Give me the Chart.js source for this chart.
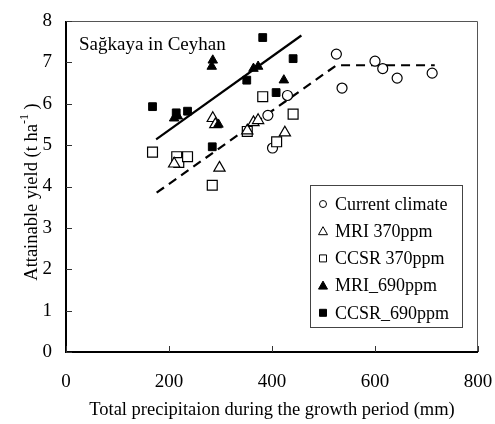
<!DOCTYPE html>
<html>
<head>
<meta charset="utf-8">
<script src="https://cdn.jsdelivr.net/npm/chart.js@4"></script>
<style>
  html, body { margin: 0; padding: 0; background: #fff; }
  #wrap { width: 495px; height: 424px; }
</style>
</head>
<body>
<div id="wrap"><canvas id="myChart" width="495" height="424"></canvas></div>
<script>
// Data (x = precipitation mm, y = yield t/ha)
const currentX = [392, 401, 430, 525, 536, 600, 615, 643, 711];
const currentY = [5.72, 4.93, 6.2, 7.2, 6.38, 7.03, 6.85, 6.62, 6.74];

const mri370X = [210, 285, 290, 298, 352, 364, 373, 425];
const mri370Y = [4.55, 5.65, 5.5, 4.45, 5.35, 5.55, 5.6, 5.3];

const ccsr370X = [168, 215, 219, 236, 284, 352, 382, 409, 441];
const ccsr370Y = [4.83, 4.72, 4.58, 4.72, 4.03, 5.33, 6.17, 5.08, 5.75];

const mri690X = [210, 217, 283, 285, 296, 364, 373, 423];
const mri690Y = [5.65, 5.7, 6.9, 7.05, 5.5, 6.85, 6.9, 6.57];

const ccsr690X = [168, 214, 236, 284, 351, 382, 408, 441];
const ccsr690Y = [5.93, 5.78, 5.82, 4.96, 6.57, 7.6, 6.27, 7.09];

// trend lines
const solidLineX = [175, 457];
const solidLineY = [5.14, 7.65];
const dashLineX = [176, 525, 716];
const dashLineY = [3.85, 6.93, 6.93];

const xTicks = [0, 200, 400, 600, 800];
const yTicks = [0, 1, 2, 3, 4, 5, 6, 7, 8];

const seriesNames = ['Current climate', 'MRI 370ppm', 'CCSR 370ppm', 'MRI_690ppm', 'CCSR_690ppm'];

const serif = "'Liberation Serif', 'Times New Roman', serif";

function pts(xs, ys) {
  return xs.map((x, i) => ({ x: x, y: ys[i] }));
}

// frame, inward tick marks, inner title, y title and legend
const decorations = {
  id: 'decorations',
  afterDraw: (chart) => {
    const ctx = chart.ctx;
    const a = chart.chartArea;
    const xs = chart.scales.x, ys = chart.scales.y;
    ctx.save();
    // thin top/right edges
    ctx.strokeStyle = '#555';
    ctx.lineWidth = 1;
    ctx.beginPath();
    ctx.moveTo(a.left, a.top + 0.5);
    ctx.lineTo(a.right - 0.5, a.top + 0.5);
    ctx.lineTo(a.right - 0.5, a.bottom);
    ctx.stroke();
    // heavy left/bottom axes
    ctx.strokeStyle = '#000';
    ctx.lineWidth = 2;
    ctx.beginPath();
    ctx.moveTo(a.left, a.top);
    ctx.lineTo(a.left, a.bottom);
    ctx.lineTo(a.right, a.bottom);
    ctx.stroke();
    // ticks
    ctx.lineWidth = 1;
    ctx.strokeStyle = '#333';
    ctx.beginPath();
    yTicks.forEach(v => {
      const py = Math.round(ys.getPixelForValue(v)) + 0.5;
      ctx.moveTo(a.left, py); ctx.lineTo(a.left + 6, py);
    });
    xTicks.forEach(v => {
      const px = Math.round(xs.getPixelForValue(v)) + 0.5;
      ctx.moveTo(px, a.bottom); ctx.lineTo(px, a.bottom - 6);
    });
    ctx.stroke();

    // inner title
    ctx.fillStyle = '#000';
    ctx.font = '19px ' + serif;
    ctx.textBaseline = 'alphabetic';
    ctx.textAlign = 'left';
    ctx.fillText('Sağkaya in Ceyhan', 79, 50);

    // y title with superscript
    ctx.save();
    ctx.translate(32, 192);
    ctx.rotate(-Math.PI / 2);
    const p1 = 'Attainable yield (t ha', p2 = '-1', p3 = ' )';
    ctx.font = '18.5px ' + serif;
    const w1 = ctx.measureText(p1).width, w3 = ctx.measureText(p3).width;
    ctx.font = '12px ' + serif;
    const w2 = ctx.measureText(p2).width;
    let sx = -(w1 + w2 + w3) / 2;
    ctx.textBaseline = 'middle';
    ctx.font = '18.5px ' + serif;
    ctx.fillText(p1, sx, 0);
    ctx.font = '12px ' + serif;
    ctx.fillText(p2, sx + w1, -7);
    ctx.font = '18.5px ' + serif;
    ctx.fillText(p3, sx + w1 + w2, 0);
    ctx.restore();

    // legend box
    const lx = 310, ly = 185, lw = 152, lh = 142;
    ctx.fillStyle = '#fff';
    ctx.fillRect(lx, ly, lw, lh);
    ctx.strokeStyle = '#444';
    ctx.lineWidth = 1;
    ctx.strokeRect(lx + 0.5, ly + 0.5, lw, lh);
    ctx.font = '18px ' + serif;
    ctx.textBaseline = 'middle';
    chart.data.datasets.slice(0, 5).forEach((ds, i) => {
      const cy = ly + 19 + i * 27.2;
      const cx = lx + 13;
      ctx.lineWidth = 1;
      ctx.strokeStyle = '#000';
      ctx.fillStyle = ds.pointBackgroundColor;
      ctx.beginPath();
      if (ds.pointStyle === 'circle') {
        ctx.arc(cx, cy, 3.5, 0, Math.PI * 2);
      } else if (ds.pointStyle === 'triangle') {
        ctx.moveTo(cx, cy - 4.5); ctx.lineTo(cx + 4.5, cy + 3.5); ctx.lineTo(cx - 4.5, cy + 3.5); ctx.closePath();
      } else {
        ctx.rect(cx - 3.5, cy - 3.5, 7, 7);
      }
      ctx.fill();
      ctx.stroke();
      ctx.fillStyle = '#000';
      ctx.fillText(seriesNames[i], lx + 25, cy + 1);
    });
    ctx.restore();
  }
};

const ctx = document.getElementById('myChart').getContext('2d');
const chart = new Chart(ctx, {
  type: 'scatter',
  data: {
    datasets: [
      { label: seriesNames[0], data: pts(currentX, currentY), pointStyle: 'circle', pointRadius: 5,
        pointBackgroundColor: '#fff', pointBorderColor: '#000', pointBorderWidth: 1.2, order: 4 },
      { label: seriesNames[1], data: pts(mri370X, mri370Y), pointStyle: 'triangle', pointRadius: 6.5,
        pointBackgroundColor: '#fff', pointBorderColor: '#000', pointBorderWidth: 1.2, order: 3 },
      { label: seriesNames[2], data: pts(ccsr370X, ccsr370Y), pointStyle: 'rect', pointRadius: 7,
        pointBackgroundColor: '#fff', pointBorderColor: '#000', pointBorderWidth: 1.2, order: 3 },
      { label: seriesNames[3], data: pts(mri690X, mri690Y), pointStyle: 'triangle', pointRadius: 5.5,
        pointBackgroundColor: '#000', pointBorderColor: '#000', pointBorderWidth: 1, order: 1 },
      { label: seriesNames[4], data: pts(ccsr690X, ccsr690Y), pointStyle: 'rect', pointRadius: 5.5,
        pointBackgroundColor: '#000', pointBorderColor: '#000', pointBorderWidth: 1, order: 1 },
      { label: 'fit 690', data: pts(solidLineX, solidLineY), showLine: true, pointRadius: 0,
        borderColor: '#000', borderWidth: 2.2, order: 8 },
      { label: 'fit current', data: pts(dashLineX, dashLineY), showLine: true, pointRadius: 0,
        borderColor: '#000', borderWidth: 2.2, borderDash: [9, 6], order: 8 }
    ]
  },
  plugins: [decorations],
  options: {
    responsive: false,
    animation: false,
    layout: { padding: { top: 21, right: 17, left: 0, bottom: 0 } },
    plugins: {
      legend: { display: false },
      tooltip: { enabled: false }
    },
    scales: {
      x: {
        type: 'linear', min: 0, max: 800,
        afterFit: (s) => { s.height = 72; s.paddingLeft = 0; s.paddingRight = 0; },
        afterBuildTicks: (s) => { s.ticks = xTicks.map(v => ({ value: v })); },
        grid: { display: false, drawTicks: false },
        border: { display: false },
        ticks: { color: '#000', padding: 19, font: { family: serif, size: 19 } },
        title: { display: true, text: 'Total precipitaion during the growth period (mm)',
                 color: '#000', padding: { top: 2, bottom: 3 }, font: { family: serif, size: 18.5 } }
      },
      y: {
        min: 0, max: 8,
        afterFit: (s) => { s.width = 66; s.paddingTop = 0; s.paddingBottom = 0; },
        afterBuildTicks: (s) => { s.ticks = yTicks.map(v => ({ value: v })); },
        grid: { display: false, drawTicks: false },
        border: { display: false },
        ticks: { color: '#000', padding: 14, font: { family: serif, size: 19 } }
      }
    }
  }
});
</script>
</body>
</html>
